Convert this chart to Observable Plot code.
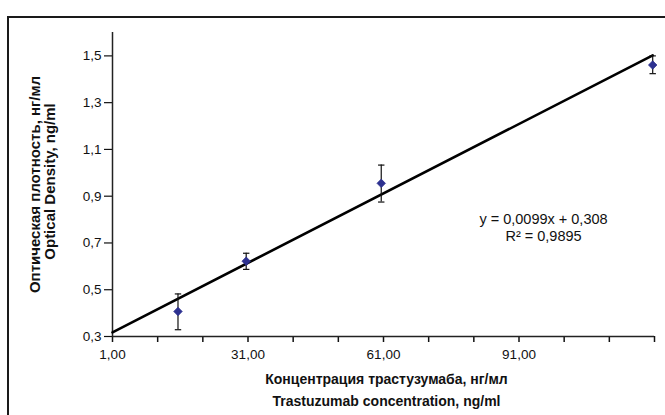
<!DOCTYPE html>
<html>
<head>
<meta charset="utf-8">
<script src="https://cdn.jsdelivr.net/npm/d3@7"></script>
<script src="https://cdn.jsdelivr.net/npm/@observablehq/plot@0.6"></script>
<style>
  html, body { margin: 0; padding: 0; background: #fff; overflow: hidden; }
  #wrap { position: relative; width: 665px; height: 415px; overflow: hidden; }
  #chart { position: absolute; left: 0; top: 0; z-index: 1; }
  #frame { position: absolute; left: 7px; top: 16px; width: 700px; height: 450px; border-left: 2px solid #1a1a1a; border-top: 2px solid #1a1a1a; z-index: 2; pointer-events: none; }
</style>
</head>
<body>
<div id="wrap"><div id="chart"></div><div id="frame"></div></div>
<script>
// Data
const concentration = [15.5, 30.6, 60.5, 120.6];      // ng/ml
const opticalDensity = [0.407, 0.622, 0.955, 1.461];
const errLow  = [0.329, 0.587, 0.875, 1.424];
const errHigh = [0.482, 0.656, 1.033, 1.500];

// Trend line printed on the chart: y = 0,0099x + 0,308
const trendSlope = 0.0099;
const trendIntercept = 0.308;
const trendX = [1, 120.6];

const xTicks = [1, 11, 21, 31, 41, 51, 61, 71, 81, 91, 101, 111, 121];
const xTickLabels = [1, 31, 61, 91];
const yTicks = [0.3, 0.5, 0.7, 0.9, 1.1, 1.3, 1.5];

const equationText = "y = 0,0099x + 0,308";
const r2Text = "R² = 0,9895";
const xTitle1 = "Концентрация трастузумаба, нг/мл";
const xTitle2 = "Trastuzumab concentration, ng/ml";
const yTitle1 = "Оптическая плотность, нг/мл";
const yTitle2 = "Optical Density, ng/ml";

const points = concentration.map((c, i) => ({x: c, y: opticalDensity[i], lo: errLow[i], hi: errHigh[i]}));
const trend = trendX.map(x => ({x, y: trendSlope * x + trendIntercept}));

const capSymbol = {
  draw(context, size) {
    const w = 3.2;
    context.moveTo(-w, 0);
    context.lineTo(w, 0);
  }
};

const font = "'Liberation Sans', Arial, Helvetica, sans-serif";

const chart = Plot.plot({
  width: 665,
  height: 415,
  marginLeft: 112,
  marginRight: 11,
  marginTop: 32,
  marginBottom: 79,
  style: {fontFamily: font, fontSize: "13.5px", color: "#111", background: "transparent"},
  x: {domain: [1, 121]},
  y: {domain: [0.3, 1.6]},
  marks: [
    Plot.axisX({
      ticks: xTicks, tickSize: 6, tickPadding: 7, label: null, strokeWidth: 1.5,
      tickFormat: d => xTickLabels.includes(d) ? d.toFixed(2).replace(".", ",") : ""
    }),
    Plot.axisY({
      ticks: yTicks, tickSize: 8, tickPadding: 3, label: null, strokeWidth: 1.2,
      tickFormat: d => d.toFixed(1).replace(".", ",")
    }),
    Plot.ruleX([1], {y1: 0.3, y2: 1.6, stroke: "#222", strokeWidth: 1.5}),
    Plot.ruleY([0.3], {x1: 1, x2: 121, stroke: "#222", strokeWidth: 1.5}),
    Plot.line(trend, {x: "x", y: "y", stroke: "#000", strokeWidth: 2.6}),
    Plot.ruleX(points, {x: "x", y1: "lo", y2: "hi", stroke: "#111", strokeWidth: 1.2}),
    Plot.dot(points, {x: "x", y: "lo", symbol: capSymbol, stroke: "#111", strokeWidth: 1.2, fill: "none", r: 3}),
    Plot.dot(points, {x: "x", y: "hi", symbol: capSymbol, stroke: "#111", strokeWidth: 1.2, fill: "none", r: 3}),
    Plot.dot(points, {x: "x", y: "y", symbol: "diamond2", r: 3.8, fill: "#2d3190", stroke: "#2d3190", strokeWidth: 0.8}),
    Plot.text([equationText], {frameAnchor: "top-left", dx: 543 - 112, dy: 223 - 32, lineAnchor: "bottom", textAnchor: "middle", fontSize: 14.5, fill: "#111"}),
    Plot.text([r2Text], {frameAnchor: "top-left", dx: 543 - 112, dy: 240 - 32, lineAnchor: "bottom", textAnchor: "middle", fontSize: 14.5, fill: "#111"}),
    Plot.text([xTitle1], {frameAnchor: "bottom", dx: 3, dy: 383 - 336, lineAnchor: "bottom", textAnchor: "middle", fontSize: 14, fontWeight: "bold", fill: "#111"}),
    Plot.text([xTitle2], {frameAnchor: "bottom", dx: 3, dy: 405 - 336, lineAnchor: "bottom", textAnchor: "middle", fontSize: 14, fontWeight: "bold", fill: "#111"}),
    Plot.text([yTitle1], {frameAnchor: "left", dx: 39.5 - 112, dy: 0, rotate: -90, lineAnchor: "bottom", textAnchor: "middle", fontSize: 15, fontWeight: "bold", fill: "#111"}),
    Plot.text([yTitle2], {frameAnchor: "left", dx: 54 - 112, dy: -3, rotate: -90, lineAnchor: "bottom", textAnchor: "middle", fontSize: 15, fontWeight: "bold", fill: "#111"})
  ]
});
document.getElementById("chart").appendChild(chart);
</script>
</body>
</html>
